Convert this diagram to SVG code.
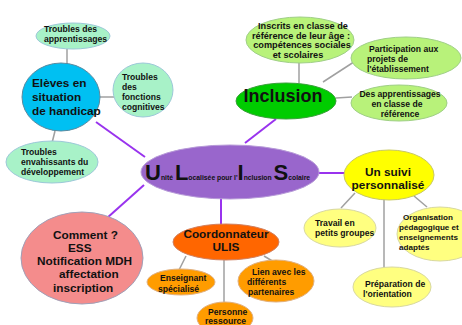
<svg xmlns="http://www.w3.org/2000/svg" width="462" height="325" viewBox="0 0 462 325">
<style>
text{font-family:"Liberation Sans",Arial,sans-serif;font-weight:bold;fill:#111}
.s{font-size:8.6px}
.m{font-size:11.8px}
.g{stroke:#a0a0a0;stroke-width:1.5;fill:none}
.p{stroke:#9933ee;stroke-width:2;fill:none}
.mint{fill:#a8f2c8;stroke:#9cc8d8;stroke-width:1}
.lg{fill:#b8f27a;stroke:#9fcf86;stroke-width:1}
.ly{fill:#ffff80;stroke:#d8d8a0;stroke-width:1}
.lo{fill:#ff9c00;stroke:#e0b080;stroke-width:1}
.c{text-anchor:middle}
</style>
<rect width="462" height="325" fill="#ffffff"/>
<g id="connectors">
<line class="g" x1="67" y1="49" x2="67" y2="64"/>
<line class="g" x1="100" y1="97" x2="114" y2="97"/>
<line class="g" x1="55" y1="131" x2="52" y2="143"/>
<line class="p" x1="96" y1="122" x2="145" y2="157"/>
<line class="g" x1="299" y1="62" x2="299" y2="83"/>
<line class="g" x1="323" y1="82" x2="360" y2="58"/>
<line class="g" x1="336" y1="98" x2="352" y2="97"/>
<line class="p" x1="276" y1="119" x2="245" y2="143"/>
<line class="p" x1="318" y1="173" x2="345" y2="173"/>
<line class="g" x1="355" y1="193" x2="341" y2="208"/>
<line class="g" x1="384" y1="199" x2="384" y2="268"/>
<line class="g" x1="414" y1="196" x2="427" y2="207"/>
<line class="p" x1="221" y1="198" x2="221" y2="226"/>
<line class="g" x1="186" y1="256" x2="179" y2="270"/>
<line class="g" x1="224" y1="260" x2="224" y2="303"/>
<line class="g" x1="264" y1="256" x2="274" y2="262"/>
<line class="p" x1="144" y1="185" x2="107" y2="218"/>
</g>
<g id="ulis">
<ellipse cx="230" cy="172" rx="89" ry="27" fill="#9966cc" stroke="#b79ad8" stroke-width="1"/>
<text x="145" y="180" font-size="6.8"><tspan font-size="22">U</tspan>nité <tspan font-size="22">L</tspan>ocalisée pour l'<tspan font-size="22">I</tspan>nclusion <tspan font-size="22">S</tspan>colaire</text>
</g>
<g id="eleves">
<ellipse cx="61" cy="97" rx="39" ry="34" fill="#00c0f2" stroke="#5a8aa0" stroke-width="1"/>
<text class="m" x="32" y="87">Elèves en</text>
<text class="m" x="32" y="101">situation</text>
<text class="m" x="32" y="115">de handicap</text>
</g>
<g id="troubles-apprentissages">
<ellipse class="mint" cx="73" cy="36" rx="37" ry="13"/>
<text class="s" x="44" y="32">Troubles des</text>
<text class="s" x="44" y="42">apprentissages</text>
</g>
<g id="troubles-fonctions">
<ellipse class="mint" cx="143" cy="90" rx="30" ry="27"/>
<text class="s" x="122" y="80">Troubles</text>
<text class="s" x="122" y="90">des</text>
<text class="s" x="122" y="100">fonctions</text>
<text class="s" x="122" y="110">cognitives</text>
</g>
<g id="troubles-envahissants">
<ellipse class="mint" cx="52" cy="162" rx="46" ry="21"/>
<text class="s" x="21" y="155">Troubles</text>
<text class="s" x="21" y="165">envahissants du</text>
<text class="s" x="21" y="175">développement</text>
</g>
<g id="inclusion">
<ellipse cx="286" cy="101" rx="50" ry="18" fill="#00cc00" stroke="#3aa03a" stroke-width="1"/>
<text x="283" y="102" font-size="18" class="c">Inclusion</text>
</g>
<g id="inscrits">
<ellipse class="lg" cx="300" cy="40" rx="54" ry="23"/>
<text class="c" x="303" y="29" font-size="9.2">Inscrits en classe de</text>
<text class="c" x="301" y="38.5" font-size="9.2">référence de leur âge :</text>
<text class="c" x="302" y="48" font-size="9.2">compétences sociales</text>
<text class="c" x="298" y="58" font-size="9.2">et scolaires</text>
</g>
<g id="participation">
<ellipse class="lg" cx="406" cy="58" rx="55" ry="21"/>
<text class="s" x="369" y="52">Participation aux</text>
<text class="s" x="367" y="62">projets de</text>
<text class="s" x="367" y="72">l'établissement</text>
</g>
<g id="des-apprentissages">
<ellipse class="lg" cx="399" cy="103" rx="48" ry="18"/>
<text class="s c" x="400" y="97">Des apprentissages</text>
<text class="s c" x="397" y="107">en classe de</text>
<text class="s c" x="400" y="117">référence</text>
</g>
<g id="suivi">
<ellipse cx="389" cy="175" rx="45" ry="25" fill="#ffff00" stroke="#c8c860" stroke-width="1"/>
<text class="m c" x="388" y="176">Un suivi</text>
<text class="m c" x="388" y="189">personnalisé</text>
</g>
<g id="travail">
<ellipse class="ly" cx="340" cy="228" rx="36" ry="19"/>
<text class="s" x="315" y="226">Travail en</text>
<text class="s" x="315" y="236">petits groupes</text>
</g>
<g id="organisation">
<ellipse class="ly" cx="440" cy="234" rx="43" ry="27"/>
<text x="403" y="220" font-size="8.1">Organisation</text>
<text x="399" y="230" font-size="8.1">pédagogique et</text>
<text x="399" y="240" font-size="8.1">enseignements</text>
<text x="399" y="250" font-size="8.1">adaptés</text>
</g>
<g id="preparation">
<ellipse class="ly" cx="392" cy="287" rx="39" ry="20"/>
<text class="s" x="365" y="287">Préparation de</text>
<text class="s" x="363" y="297">l'orientation</text>
</g>
<g id="coordonnateur">
<ellipse cx="226" cy="242" rx="53" ry="18" fill="#ff6600" stroke="#d08060" stroke-width="1"/>
<text class="m c" x="226" y="238">Coordonnateur</text>
<text class="m c" x="226" y="251">ULIS</text>
</g>
<g id="enseignant">
<ellipse class="lo" cx="181" cy="282" rx="34" ry="13"/>
<text class="s" x="160" y="281">Enseignant</text>
<text class="s" x="158" y="292">spécialisé</text>
</g>
<g id="personne">
<ellipse class="lo" cx="225" cy="318" rx="28" ry="16"/>
<text class="s" x="208" y="315">Personne</text>
<text class="s" x="205" y="324">ressource</text>
</g>
<g id="lien">
<ellipse class="lo" cx="276" cy="281" rx="38" ry="21"/>
<text class="s" x="252" y="275">Lien avec les</text>
<text class="s" x="247" y="285">différents</text>
<text class="s" x="248" y="295">partenaires</text>
</g>
<g id="comment">
<ellipse cx="82" cy="258" rx="61" ry="46" fill="#f48c8c" stroke="#a0a0b8" stroke-width="1"/>
<text class="m" x="53" y="239">Comment ?</text>
<text class="m" x="68" y="252">ESS</text>
<text class="m" x="37" y="265">Notification MDH</text>
<text class="m" x="59" y="278">affectation</text>
<text class="m" x="53" y="292">inscription</text>
</g>
</svg>
